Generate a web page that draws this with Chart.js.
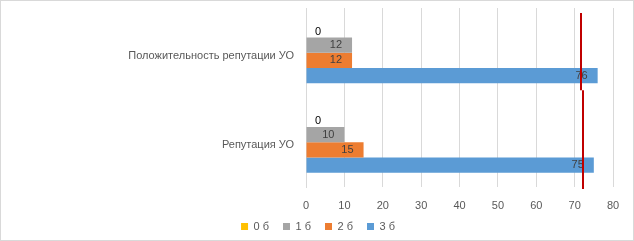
<!DOCTYPE html>
<html>
<head>
<meta charset="utf-8">
<script src="https://cdn.jsdelivr.net/npm/chart.js@4"></script>
<style>
  html, body { margin: 0; padding: 0; background: #fff; }
  #wrap { position: relative; width: 634px; height: 241px; box-sizing: border-box; border: 1px solid #d9d9d9; }
</style>
</head>
<body>
<div id="wrap"><canvas id="chart" width="632" height="239"></canvas></div>
<script>
// данные диаграммы
const categories = ['Положительность репутации УО', 'Репутация УО'];
const seriesNames = ['0 б', '1 б', '2 б', '3 б'];
const values0 = [0, 0];
const values1 = [12, 10];
const values2 = [12, 15];
const values3 = [76, 75];
const refLines = [71.6, 71.8]; // красные линии
const xTicks = [0, 10, 20, 30, 40, 50, 60, 70, 80];

const colors = ['#ffc000', '#a5a5a5', '#ed7d31', '#5b9bd5'];
const FONT = 'Liberation Sans, Arial, sans-serif';

// подписи значений внутри столбцов
const valueLabels = {
  id: 'valueLabels',
  afterDatasetsDraw(chart) {
    const ctx = chart.ctx;
    const x = chart.scales.x;
    ctx.save();
    ctx.font = '11px ' + FONT;
    ctx.textBaseline = 'middle';
    chart.data.datasets.forEach((ds, di) => {
      chart.getDatasetMeta(di).data.forEach((bar, i) => {
        const v = ds.data[i];
        if (v === 0) {
          ctx.fillStyle = '#000';
          ctx.textAlign = 'left';
          ctx.fillText(String(v), x.getPixelForValue(0) + 9, bar.y + 2);
        } else {
          ctx.fillStyle = '#404040';
          ctx.textAlign = 'right';
          ctx.fillText(String(v), bar.x - 10, bar.y);
        }
      });
    });
    ctx.restore();
  }
};

// вертикальные красные линии
const redLines = {
  id: 'redLines',
  afterDatasetsDraw(chart) {
    const ctx = chart.ctx;
    const x = chart.scales.x, y = chart.scales.y;
    const area = chart.chartArea;
    const join = y.getPixelForValue(0.42);
    ctx.save();
    ctx.strokeStyle = '#c00000';
    ctx.lineWidth = 2;
    refLines.forEach((v, i) => {
      const px = Math.round(x.getPixelForValue(v)) + i;
      const top = i === 0 ? area.top + 5 : join;
      const bottom = i === 0 ? join : area.bottom + 2;
      ctx.beginPath();
      ctx.moveTo(px, top);
      ctx.lineTo(px, bottom);
      ctx.stroke();
    });
    ctx.restore();
  }
};

// фиксированная высота и сдвиг легенды, как в оригинале
const legendShift = {
  id: 'legendShift',
  beforeLayout(chart) {
    const lg = chart.legend;
    if (lg && !lg._fixed) {
      const fit = lg.fit;
      lg.fit = function () { fit.call(this); this.height = 25; };
      lg._fixed = true;
    }
  },
  afterLayout(chart) {
    chart.legend.left += 11;
    chart.legend.right += 11;
    chart.legend.top -= 8;
    chart.legend.bottom -= 8;
  }
};

const seriesValues = [values0, values1, values2, values3];

new Chart(document.getElementById('chart').getContext('2d'), {
  type: 'bar',
  data: {
    labels: categories,
    datasets: seriesNames.map((name, i) => ({
      label: name,
      data: seriesValues[i],
      backgroundColor: colors[i],
      barPercentage: 1,
      categoryPercentage: 0.68
    }))
  },
  options: {
    indexAxis: 'y',
    responsive: false,
    animation: false,
    layout: { padding: { top: 7, right: 20, bottom: 0, left: 0 } },
    scales: {
      x: {
        min: 0,
        max: 80,
        afterBuildTicks: (s) => { s.ticks = xTicks.map(v => ({ value: v })); },
        afterFit: (s) => { s.height = 28; },
        grid: { color: '#d9d9d9', drawTicks: false },
        border: { display: false },
        ticks: { color: '#595959', font: { size: 11, family: FONT }, padding: 12 }
      },
      y: {
        afterFit: (s) => { s.width = 305; s.paddingTop = 0; s.paddingBottom = 0; },
        grid: { display: false, drawTicks: false },
        border: { color: '#d9d9d9' },
        ticks: { color: '#595959', font: { size: 11, family: FONT }, padding: 12, labelOffset: 3 }
      }
    },
    plugins: {
      legend: {
        position: 'bottom',
        labels: {
          boxWidth: 7,
          boxHeight: 7,
          color: '#595959',
          font: { size: 11, family: FONT },
          padding: 14
        }
      },
      tooltip: { enabled: false }
    }
  },
  plugins: [valueLabels, redLines, legendShift]
});
</script>
</body>
</html>
